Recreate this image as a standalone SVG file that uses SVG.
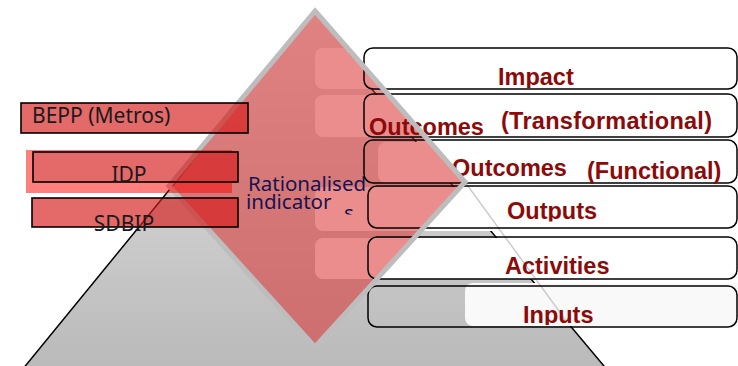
<svg xmlns="http://www.w3.org/2000/svg" width="738" height="366" viewBox="0 0 738 366">
  <style>
    .tier-back { fill: #ffffff; stroke: none; }
    .tier-frame { fill: none; stroke: #000000; stroke-width: 1.5; }
    .tier-label { font-family: "Liberation Sans", Arial, sans-serif; font-weight: bold; font-size: 23.5px; fill: #8b0a0a; }
    .plan-box { fill: rgb(214,28,28); fill-opacity: 0.66; stroke: #000000; stroke-width: 1.6; }
    .plan-label { font-family: "Noto Sans", "Open Sans", sans-serif; font-size: 21px; fill: #1a1a1a; }
    .core-label { font-family: "Noto Sans", "Open Sans", sans-serif; font-size: 20.5px; fill: #141450; }
  </style>
  <defs>
    <linearGradient id="pyramidFill" gradientUnits="userSpaceOnUse" x1="0" y1="18" x2="0" y2="366">
      <stop offset="0" stop-color="#e6e6e6"/>
      <stop offset="1" stop-color="#bababa"/>
    </linearGradient>
    <polygon id="diamondShape" points="315,11 465,182 315,347 169,186"/>
    <clipPath id="clipImpact"><rect x="360" y="40" width="380" height="48"/></clipPath>
    <clipPath id="clipOutputs"><rect x="360" y="186" width="380" height="35.5"/></clipPath>
    <clipPath id="clipInputs"><rect x="360" y="286" width="380" height="39"/></clipPath>
    <clipPath id="clipS"><rect x="330" y="200" width="40" height="14.5"/></clipPath>
  </defs>

  <rect x="0" y="0" width="738" height="366" fill="#ffffff"/>

  <!-- gray results pyramid (its tip runs under the diamond rim) -->
  <g id="pyramid">
    <polygon points="22,370 170,189 267,68 315,12 349,50 339,50 609,372" fill="url(#pyramidFill)"/>
    <polyline points="22,370 170,189 267,68 315,12 349,50 339,50 609,372" fill="none" stroke="#000000" stroke-width="1.5"/>
  </g>

  <!-- white backings of the result tiers -->
  <g id="tier-backs">
    <rect class="tier-back" x="315" y="48" width="430" height="41" rx="8"/>
    <rect class="tier-back" x="315" y="95" width="430" height="42" rx="8"/>
    <rect class="tier-back" x="378" y="142" width="367" height="41" rx="8"/>
    <rect class="tier-back" x="315" y="187" width="430" height="44" rx="8"/>
    <rect class="tier-back" x="315" y="238" width="430" height="41" rx="8"/>
    <rect class="tier-back" x="465" y="283" width="280" height="43" rx="8" style="fill:#f9f9f9"/>
    <line x1="465" y1="182" x2="567" y2="322" stroke="#cccccc" stroke-width="1.5"/>
  </g>

  <!-- translucent diamond of rationalised indicators -->
  <g id="rationalised-indicators">
    <use href="#diamondShape" fill="rgb(220,48,48)" fill-opacity="0.55"/>
    <text class="core-label" x="248" y="191">Rationalised</text>
    <text class="core-label" x="246" y="209">indicator</text>
    <text class="core-label" x="344" y="220" clip-path="url(#clipS)">s</text>
  </g>

  <!-- result tiers -->
  <g id="tier-impact">
    <rect class="tier-frame" x="364" y="48" width="373" height="41" rx="9"/>
    <text class="tier-label" x="498" y="85" clip-path="url(#clipImpact)">Impact</text>
  </g>
  <g id="tier-outcomes-transformational">
    <rect class="tier-frame" x="364" y="94" width="373" height="43" rx="9"/>
    <text class="tier-label" x="369" y="135">Outcomes</text>
    <text class="tier-label" x="501" y="129" textLength="211">(Transformational)</text>
  </g>
  <g id="tier-outcomes-functional">
    <rect class="tier-frame" x="364" y="140" width="373" height="43" rx="9"/>
    <text class="tier-label" x="452" y="176">Outcomes</text>
    <text class="tier-label" x="587" y="179">(Functional)</text>
  </g>
  <g id="tier-outputs">
    <rect class="tier-frame" x="368" y="186" width="369" height="42" rx="9"/>
    <text class="tier-label" x="507" y="219" clip-path="url(#clipOutputs)">Outputs</text>
  </g>
  <g id="tier-activities">
    <rect class="tier-frame" x="368" y="237" width="369" height="42" rx="9"/>
    <text class="tier-label" x="505" y="274">Activities</text>
  </g>
  <g id="tier-inputs">
    <rect class="tier-frame" x="368" y="286" width="369" height="41" rx="9"/>
    <text class="tier-label" x="523" y="323" clip-path="url(#clipInputs)">Inputs</text>
  </g>

  <!-- gray rim of the diamond, over the tiers -->
  <g id="diamond-rim">
    <use href="#diamondShape" fill="none" stroke="#bdbdbd" stroke-width="5" stroke-linejoin="miter"/>
  </g>

  <!-- planning instruments -->
  <g id="plan-bepp">
    <rect class="plan-box" x="21" y="103" width="227" height="30"/>
    <text class="plan-label" x="32" y="123">BEPP (Metros)</text>
  </g>
  <g id="plan-idp">
    <path d="M26 150 H232 V152 H33 V182 H232 V193 H26 Z" fill="rgb(255,0,0)" fill-opacity="0.5"/>
    <rect class="plan-box" x="33" y="152" width="205" height="30"/>
    <text class="plan-label" x="129" y="182" text-anchor="middle">IDP</text>
  </g>
  <g id="plan-sdbip">
    <rect class="plan-box" x="32" y="198" width="206" height="29"/>
    <text class="plan-label" x="124" y="231" text-anchor="middle">SDBIP</text>
  </g>

  <g id="connectors"/>
</svg>
